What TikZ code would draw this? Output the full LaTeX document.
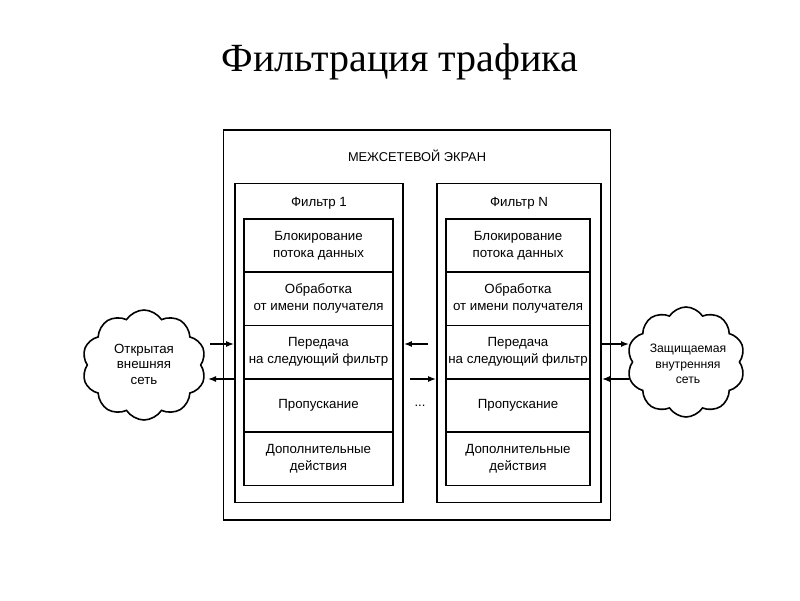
\documentclass[tikz,border=0pt]{standalone}
\usepackage{fontspec}
\setmainfont{Liberation Sans}
\newfontfamily\titlefont{Liberation Serif}
\usetikzlibrary{shapes.symbols,arrows.meta}
\begin{document}
\begin{tikzpicture}[x=1pt,y=-1pt,
  frame/.style={draw,line width=1.8pt},
  cell/.style={draw,line width=1.6pt,minimum height=53.3pt,align=center,
    font=\fontsize{13.3}{17}\selectfont,inner sep=0pt},
  cellA/.style={cell,minimum width=149pt},
  cellB/.style={cell,minimum width=144pt},
  lbl/.style={font=\fontsize{13.3}{17}\selectfont,anchor=base},
  netcloud/.style={cloud,draw,line width=1.6pt,cloud puffs=10,cloud puff arc=115,inner sep=0pt},
  cloudtext/.style={align=center,font=\fontsize{13.3}{15.5}\selectfont,inner sep=0pt},
  arr/.style={line width=1.4pt,-{Latex[length=8pt,width=6pt]}}]
\useasboundingbox (0,0) rectangle (800,600);
% title
\node[anchor=base,font=\titlefont\fontsize{40}{42}\selectfont] (title) at (400,71) {Фильтрация трафика};
% outer frame
\node[frame,minimum width=387pt,minimum height=390pt,inner sep=0pt] (fw) at (417,325) {};
\node[lbl,font=\fontsize{12.8}{15}\selectfont] (fwlbl) at (417,161) {МЕЖСЕТЕВОЙ ЭКРАН};
% filter boxes
\node[frame,minimum width=168pt,minimum height=319pt,inner sep=0pt] (f1) at (319,343) {};
\node[frame,minimum width=164pt,minimum height=319pt,inner sep=0pt] (fn) at (519,343) {};
\node[lbl] (f1lbl) at (319,206) {Фильтр 1};
\node[lbl] (fnlbl) at (519,206) {Фильтр N};
% filter 1 cells
\node[cellA] (a1) at (318.5,245.5) {Блокирование\\потока данных};
\node[cellA] (a2) at (318.5,298.8) {Обработка\\от имени получателя};
\node[cellA] (a3) at (318.5,352.1) {Передача\\на следующий фильтр};
\node[cellA] (a4) at (318.5,405.4) {Пропускание};
\node[cellA] (a5) at (318.5,458.7) {Дополнительные\\действия};
% filter N cells
\node[cellB] (b1) at (518,245.5) {Блокирование\\потока данных};
\node[cellB] (b2) at (518,298.8) {Обработка\\от имени получателя};
\node[cellB] (b3) at (518,352.1) {Передача\\на следующий фильтр};
\node[cellB] (b4) at (518,405.4) {Пропускание};
\node[cellB] (b5) at (518,458.7) {Дополнительные\\действия};
% dots
\node[font=\fontsize{13}{15}\selectfont] (dots) at (420,406) {...};
% clouds
\node[netcloud,minimum width=124pt,minimum height=110pt] (ext) at (144,365) {};
\node[cloudtext] (exttxt) at (144,364) {Открытая\\внешняя\\сеть};
\node[netcloud,minimum width=118pt,minimum height=110pt] (int) at (686,362) {};
\node[cloudtext,font=\fontsize{12.2}{15.5}\selectfont] (inttxt) at (688,364) {Защищаемая\\внутренняя\\сеть};
% arrows
\coordinate (p1) at (210,344);
\coordinate (p2) at (208,379);
\coordinate (p3) at (428,344);
\coordinate (p4) at (410,379);
\coordinate (p5) at (629,344);
\coordinate (p6) at (629,379);
\draw[arr] (p1) -- (f1.west |- p1);
\draw[arr] (f1.west |- p2) -- (p2);
\draw[arr] (p3) -- (f1.east |- p3);
\draw[arr] (p4) -- (fn.west |- p4);
\draw[arr] (fn.east |- p5) -- (p5);
\draw[arr] (p6) -- (fn.east |- p6);
\end{tikzpicture}
\end{document}
